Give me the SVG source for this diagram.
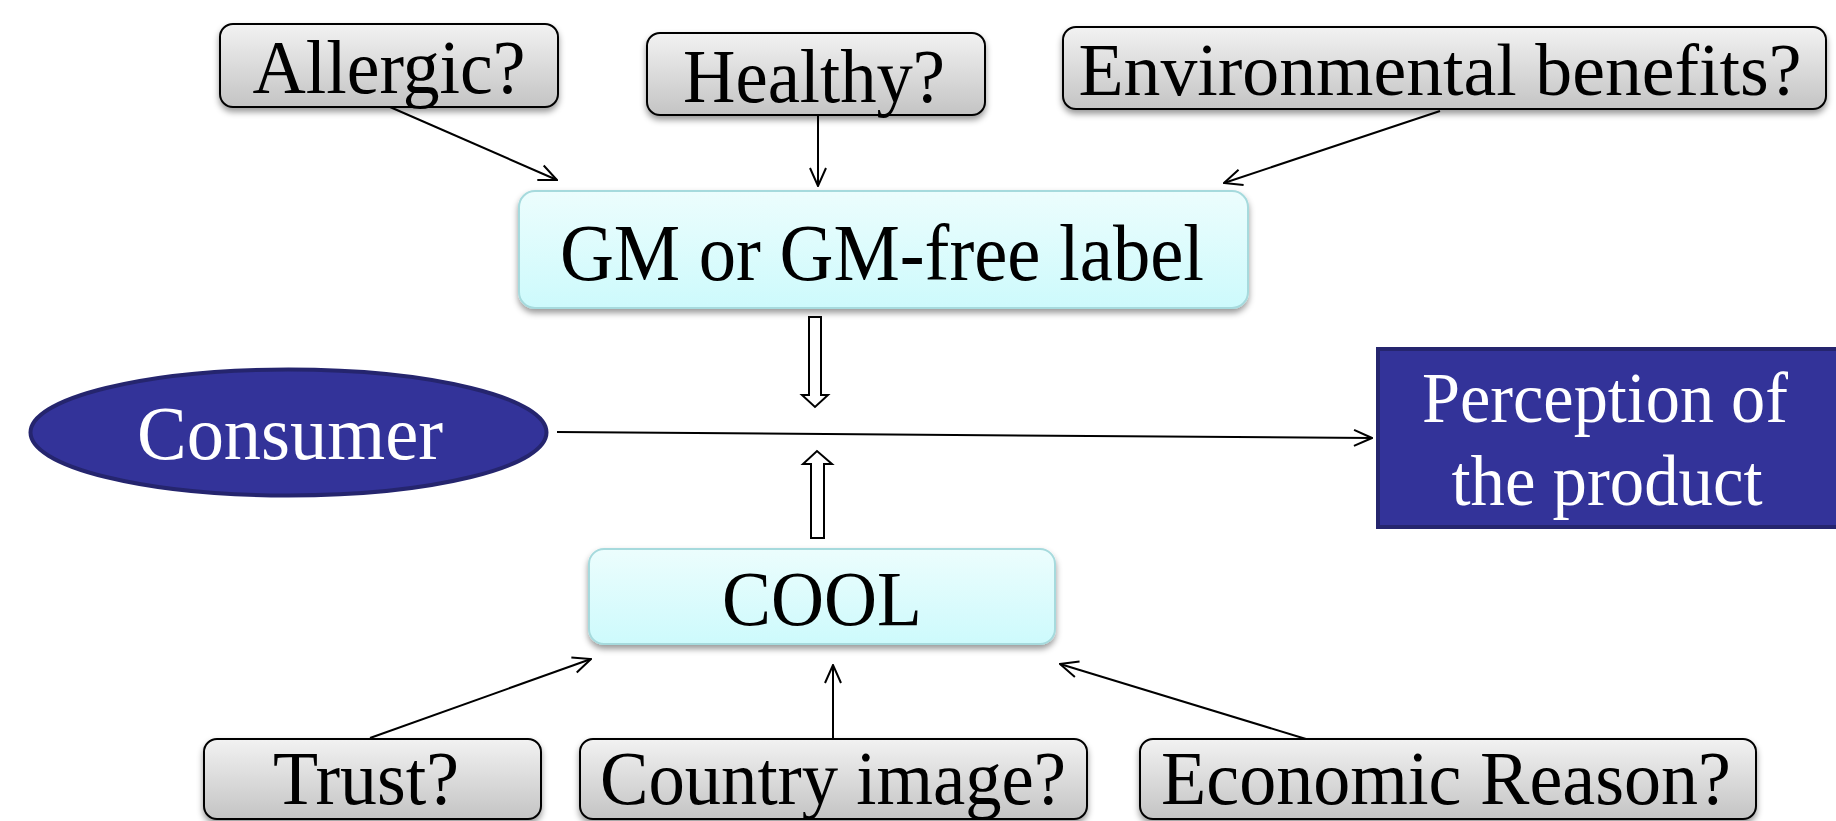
<svg xmlns="http://www.w3.org/2000/svg" width="1836" height="821" viewBox="0 0 1836 821">
<defs>
<linearGradient id="grey" x1="0" y1="0" x2="0" y2="1">
<stop offset="0" stop-color="#f2f2f2"/>
<stop offset="1" stop-color="#c4c4c4"/>
</linearGradient>
<linearGradient id="cyan" x1="0" y1="0" x2="0" y2="1">
<stop offset="0" stop-color="#ecfdfd"/>
<stop offset="1" stop-color="#cdfafc"/>
</linearGradient>
<filter id="shadow" x="-5%" y="-10%" width="110%" height="130%">
<feDropShadow dx="0" dy="4" stdDeviation="3" flood-color="#000" flood-opacity="0.4"/>
</filter>
<marker id="arr" viewBox="0 0 20 20" refX="19" refY="10" markerWidth="20" markerHeight="20" markerUnits="userSpaceOnUse" orient="auto">
<path d="M1,2 L19,10 L1,18" fill="none" stroke="#000" stroke-width="2"/>
</marker>
</defs>
<style>
.q{fill:url(#grey);stroke:#000;stroke-width:2;filter:url(#shadow)}
.c{fill:url(#cyan);stroke:#a6dadd;stroke-width:2;filter:url(#shadow)}
.d{fill:#333399;stroke:#25256e;stroke-width:4}
.t{font-family:"Liberation Serif","Times New Roman",serif;fill:#000;text-anchor:middle}
.w{font-family:"Liberation Serif","Times New Roman",serif;fill:#fff;text-anchor:middle}
.l{fill:none;stroke:#000;stroke-width:2;marker-end:url(#arr)}
.b{fill:#fff;stroke:#000;stroke-width:2}
</style>
<g id="connectors">
<line class="l" x1="390" y1="107" x2="557" y2="180"/>
<line class="l" x1="818" y1="115" x2="818" y2="186"/>
<line class="l" x1="1440" y1="111" x2="1224" y2="183"/>
<line class="l" x1="370" y1="738" x2="591" y2="659"/>
<line class="l" x1="833" y1="739" x2="833" y2="665"/>
<line class="l" x1="1306" y1="739" x2="1060" y2="664"/>
<line class="l" x1="557" y1="432" x2="1372" y2="438"/>
<polygon class="b" points="809,317 821,317 821,395 828,395 815,407 802,395 809,395"/>
<polygon class="b" points="811,538 824,538 824,464 832,464 817,451 803,464 811,464"/>
</g>
<g id="allergic">
<rect class="q" x="220" y="24" width="338" height="83" rx="13"/>
<text class="t" x="389" y="93" font-size="76" textLength="273" lengthAdjust="spacingAndGlyphs">Allergic?</text>
</g>
<g id="healthy">
<rect class="q" x="647" y="33" width="338" height="82" rx="13"/>
<text class="t" x="814" y="102" font-size="76" textLength="262" lengthAdjust="spacingAndGlyphs">Healthy?</text>
</g>
<g id="environmental">
<rect class="q" x="1063" y="27" width="763" height="82" rx="13"/>
<text class="t" x="1440" y="95" font-size="73" textLength="723" lengthAdjust="spacingAndGlyphs">Environmental benefits?</text>
</g>
<g id="gm-label">
<rect class="c" x="519" y="191" width="729" height="117" rx="16"/>
<text class="t" x="882" y="280" font-size="80" textLength="644" lengthAdjust="spacingAndGlyphs">GM or GM-free label</text>
</g>
<g id="consumer">
<ellipse class="d" cx="288.5" cy="432.5" rx="258" ry="63"/>
<text class="w" x="290" y="459" font-size="77" textLength="306" lengthAdjust="spacingAndGlyphs">Consumer</text>
</g>
<g id="perception">
<rect class="d" x="1378" y="349" width="470" height="178"/>
<text class="w" x="1605" y="422" font-size="72" textLength="366" lengthAdjust="spacingAndGlyphs">Perception of</text>
<text class="w" x="1607" y="505" font-size="72" textLength="311" lengthAdjust="spacingAndGlyphs">the product</text>
</g>
<g id="cool">
<rect class="c" x="589" y="549" width="466" height="95" rx="15"/>
<text class="t" x="822" y="625" font-size="78" textLength="200" lengthAdjust="spacingAndGlyphs">COOL</text>
</g>
<g id="trust">
<rect class="q" x="204" y="739" width="337" height="80" rx="13"/>
<text class="t" x="366" y="804" font-size="76" textLength="186" lengthAdjust="spacingAndGlyphs">Trust?</text>
</g>
<g id="country">
<rect class="q" x="580" y="739" width="507" height="80" rx="13"/>
<text class="t" x="833" y="804" font-size="76" textLength="466" lengthAdjust="spacingAndGlyphs">Country image?</text>
</g>
<g id="economic">
<rect class="q" x="1140" y="739" width="616" height="80" rx="13"/>
<text class="t" x="1446" y="804" font-size="76" textLength="570" lengthAdjust="spacingAndGlyphs">Economic Reason?</text>
</g>
</svg>
